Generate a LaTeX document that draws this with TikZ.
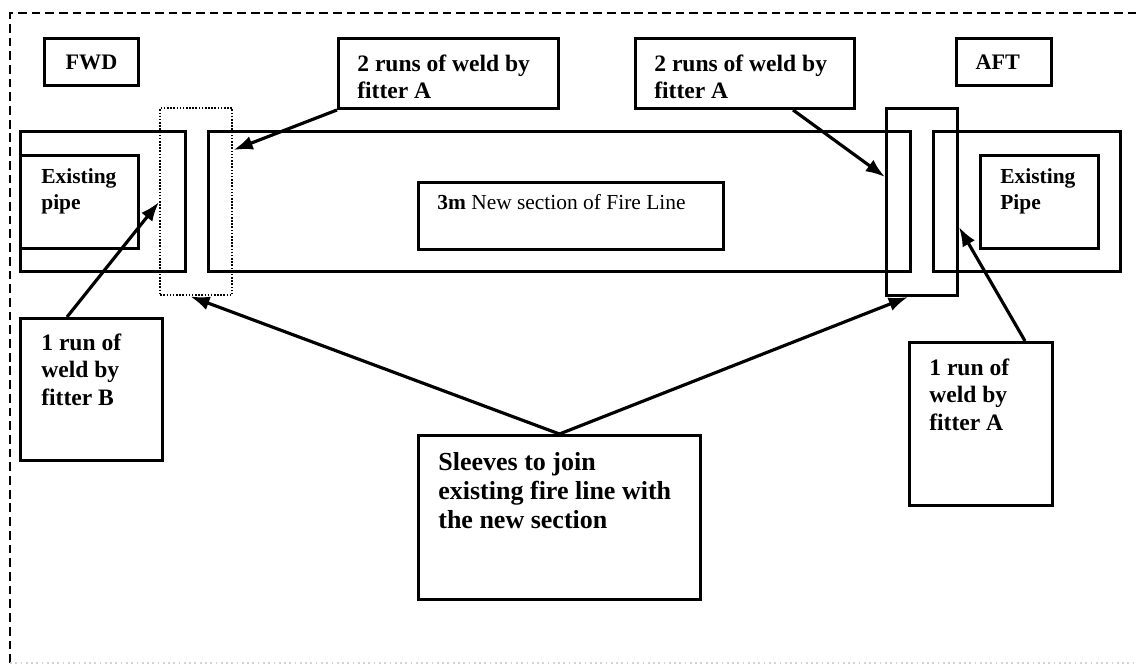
\documentclass[tikz,border=0pt]{standalone}
\usepackage{fontspec}
\setmainfont{Liberation Serif}
\usetikzlibrary{arrows.meta,calc}

\tikzset{
  box/.style={draw, line width=1.7pt, anchor=north west, inner sep=0pt},
  sleevebox/.style={box, line width=1.4pt, dash pattern=on 0.9pt off 0.9pt},
  txt/.style={anchor=north west, inner sep=0pt, align=left, font=\fontsize{13.4}{15.4}\selectfont\bfseries},
  smalltxt/.style={txt, font=\fontsize{12.2}{14.8}\selectfont\bfseries},
  bigtxt/.style={txt, font=\fontsize{14.8}{16.6}\selectfont\bfseries},
  pointer/.style={->, line width=1.8pt},
}

\begin{document}
\begin{tikzpicture}[x=0.02cm,y=-0.02cm,>={Latex[length=11pt,width=8pt]}]
\useasboundingbox (0,0) rectangle (1136,666);
% frame
\draw[line width=1.5pt, dash pattern=on 5pt off 2.8pt] (10,663) -- (10,13) -- (1136,13);
\draw[gray!35, dotted, line width=1pt] (10,663) -- (1136,663);

% direction tags
\node[box, minimum width=1.88cm, minimum height=0.94cm, font=\fontsize{12.6}{14}\selectfont\bfseries] (fwd) at (43,37) {FWD};
\node[box, minimum width=1.9cm, minimum height=0.94cm, font=\fontsize{12.6}{14}\selectfont\bfseries] (aft) at (955,37) {\hspace*{-0.25cm}AFT};

% pipes
\node[box, minimum width=3.3cm, minimum height=2.8cm] (pipeL) at (19,130) {};
\node[box, minimum width=2.36cm, minimum height=1.86cm] (oldL) at (19,154) {};
\node[smalltxt] (oldLtxt) at ($(oldL.north west)+(22,14)$) {Existing\\pipe};
\node[box, minimum width=14.04cm, minimum height=2.8cm] (newsec) at (207,130) {};
\node[box, minimum width=3.74cm, minimum height=2.8cm] (pipeR) at (932,130) {};
\node[box, minimum width=2.36cm, minimum height=1.86cm] (oldR) at (979,154) {};
\node[smalltxt] (oldRtxt) at ($(oldR.north west)+(21,14)$) {Existing\\Pipe};
\node[box, minimum width=6.1cm, minimum height=1.34cm] (title) at (417,181) {};
\node[txt, font=\fontsize{12.2}{14}\selectfont\bfseries] (titletxt) at ($(title.north west)+(20,13)$) {3m \mdseries New section of Fire Line};

% sleeves
\node[sleevebox, minimum width=1.44cm, minimum height=3.74cm] (sleeveL) at (159,107) {};
\node[box, minimum width=1.42cm, minimum height=3.74cm] (sleeveR) at (885,107) {};

% notes
\node[box, minimum width=4.4cm, minimum height=1.4cm] (runsL) at (337,37) {};
\node[txt] (runsLtxt) at ($(runsL.north west)+(20,18)$) {2 runs of weld by\\fitter A};
\node[box, minimum width=4.38cm, minimum height=1.4cm] (runsR) at (634,37) {};
\node[txt] (runsRtxt) at ($(runsR.north west)+(20,18)$) {2 runs of weld by\\fitter A};
\node[box, minimum width=2.84cm, minimum height=2.84cm] (fitB) at (19,317) {};
\node[txt] (fitBtxt) at ($(fitB.north west)+(22,17)$) {1 run of\\weld by\\fitter B};
\node[box, minimum width=2.86cm, minimum height=3.26cm] (fitA) at (908,341) {};
\node[txt] (fitAtxt) at ($(fitA.north west)+(21,18)$) {1 run of\\weld by\\fitter A};
\node[box, minimum width=5.64cm, minimum height=3.28cm] (join) at (417,434) {};
\node[bigtxt] (jointxt) at ($(join.north west)+(21,18)$) {Sleeves to join\\existing fire line with\\the new section};

% arrows
\draw[pointer] ($(fitB.north west)+(48,0)$) -- ($(sleeveL.north west)+(0,95)$);
\draw[pointer] (runsL.south west) -- ($(sleeveL.north east)+(0,43)$);
\draw[pointer] ($(runsR.south west)+(159,0)$) -- ($(sleeveR.north west)+(0,70)$);
\draw[pointer] ($(fitA.north west)+(117,0)$) -- ($(sleeveR.north east)+(0,120)$);
\draw[pointer] (join.north) -- ($(sleeveL.south)+(-6,0)$);
\draw[pointer] (join.north) -- ($(sleeveR.south)+(-14,0)$);
\end{tikzpicture}
\end{document}
